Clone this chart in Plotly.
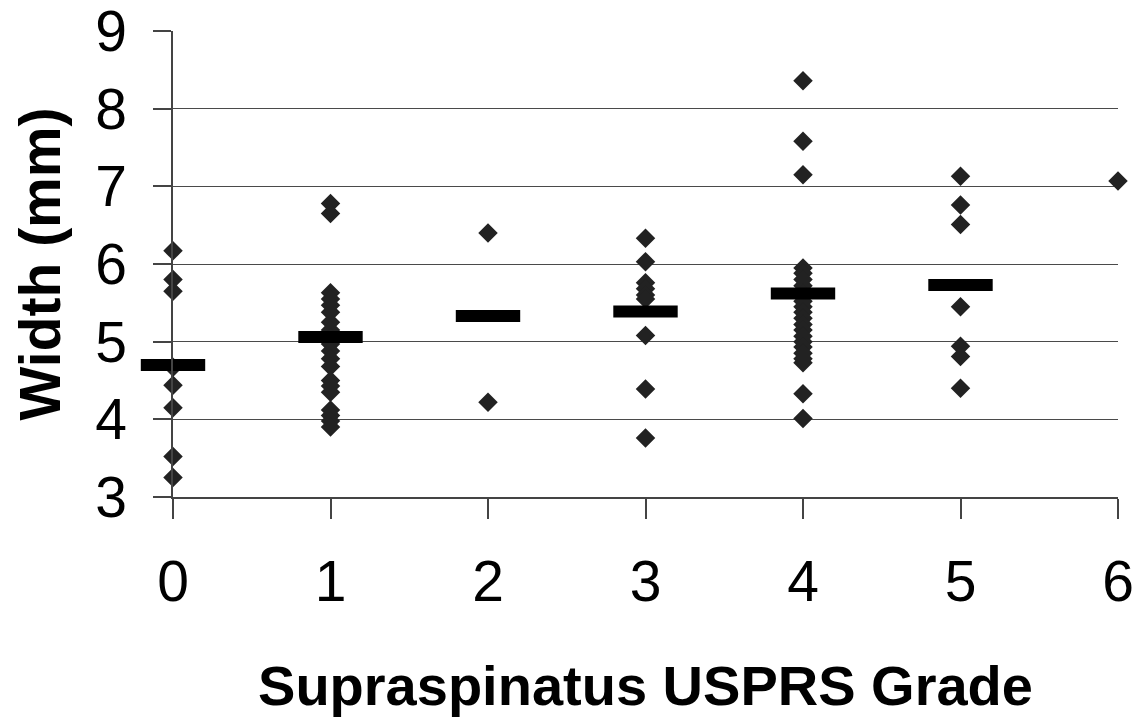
import plotly.graph_objects as go

# Data
grades = [0, 1, 2, 3, 4, 5, 6]
grade0 = [6.17, 5.80, 5.65, 4.67, 4.44, 4.15, 3.52, 3.25]
grade1 = [6.78, 6.65, 5.63, 5.55, 5.47, 5.38, 5.25, 5.15, 5.05, 4.97, 4.88,
          4.78, 4.68, 4.50, 4.43, 4.35, 4.12, 4.05, 3.98, 3.90]
grade2 = [6.40, 4.22]
grade3 = [6.33, 6.03, 5.76, 5.68, 5.60, 5.55, 5.08, 4.39, 3.76]
grade4 = [8.36, 7.58, 7.15, 5.95, 5.88, 5.80, 5.72, 5.62, 5.52, 5.45, 5.38,
          5.30, 5.22, 5.15, 5.07, 5.00, 4.93, 4.85, 4.78, 4.73, 4.33, 4.01]
grade5 = [7.13, 6.76, 6.51, 5.45, 4.94, 4.81, 4.40]
grade6 = [7.07]
mean_grades = [0, 1, 2, 3, 4, 5]
mean_values = [4.70, 5.06, 5.33, 5.39, 5.62, 5.73]
y_ticks = [3, 4, 5, 6, 7, 8, 9]

groups = [grade0, grade1, grade2, grade3, grade4, grade5, grade6]
xs, ys = [], []
for g, vals in zip(grades, groups):
    xs += [g] * len(vals)
    ys += vals

FONT = "Liberation Sans, Arial, sans-serif"

fig = go.Figure()
fig.add_trace(go.Scatter(
    x=xs, y=ys, mode="markers", cliponaxis=False, showlegend=False,
    marker=dict(symbol="diamond", size=15, color="#222222", line=dict(width=0)),
))
fig.add_trace(go.Scatter(
    x=mean_grades, y=mean_values, mode="markers", cliponaxis=False, showlegend=False,
    marker=dict(symbol="line-ew", size=46, color="black",
                line=dict(width=12, color="black")),
))

fig.update_layout(
    width=1147, height=719,
    margin=dict(l=165, r=37, t=23, b=230),
    paper_bgcolor="white", plot_bgcolor="white",
    font=dict(family=FONT, color="black"),
    xaxis=dict(
        range=[0, 6], tickvals=grades, ticktext=[str(g) for g in grades],
        showgrid=False, zeroline=False,
        showline=True, linecolor="#444444", linewidth=1.5,
        ticks="outside", ticklen=20, tickwidth=1.5, tickcolor="#444444",
        tickfont=dict(size=57, family=FONT, color="black"),
        ticklabelstandoff=14, ticklabeloverflow="allow",
        title=dict(text="<b>Supraspinatus USPRS Grade</b>",
                   font=dict(size=56, family=FONT, color="black"), standoff=54),
        automargin=False,
    ),
    yaxis=dict(
        range=[3, 9], tickvals=y_ticks, ticktext=[str(v) for v in y_ticks],
        showgrid=True, gridcolor="#4a4a4a", gridwidth=1.3, zeroline=False,
        showline=True, linecolor="#444444", linewidth=1.5,
        ticks="outside", ticklen=18, tickwidth=1.5, tickcolor="#444444",
        tickfont=dict(size=57, family=FONT, color="black"),
        ticklabelstandoff=15, ticklabeloverflow="allow",
        title=dict(text="<b>Width (mm)</b>",
                   font=dict(size=57, family=FONT, color="black"), standoff=31),
        automargin=False,
    ),
)

fig.write_html("out.html")
